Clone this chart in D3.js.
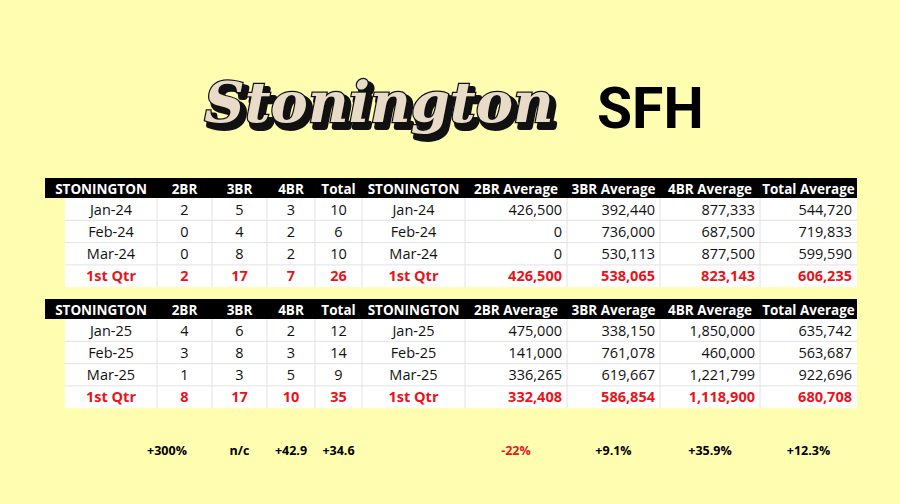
<!DOCTYPE html>
<html><head><meta charset="utf-8">
<script src="https://cdn.jsdelivr.net/npm/d3@7"></script>
<style>body{margin:0;background:#fffdb0;}</style>
</head><body><div id="chart"></div>
<script>
var w = 900, h = 504;

var headers = ["STONINGTON","2BR","3BR","4BR","Total","STONINGTON","2BR Average","3BR Average","4BR Average","Total Average"];
var colEdges = [45,157,212,267,315,362,465,567,660,760,857];

var rows24 = [
  ["Jan-24","2","5","3","10","Jan-24","426,500","392,440","877,333","544,720"],
  ["Feb-24","0","4","2","6","Feb-24","0","736,000","687,500","719,833"],
  ["Mar-24","0","8","2","10","Mar-24","0","530,113","877,500","599,590"],
  ["1st Qtr","2","17","7","26","1st Qtr","426,500","538,065","823,143","606,235"]
];
var rows25 = [
  ["Jan-25","4","6","2","12","Jan-25","475,000","338,150","1,850,000","635,742"],
  ["Feb-25","3","8","3","14","Feb-25","141,000","761,078","460,000","563,687"],
  ["Mar-25","1","3","5","9","Mar-25","336,265","619,667","1,221,799","922,696"],
  ["1st Qtr","8","17","10","35","1st Qtr","332,408","586,854","1,118,900","680,708"]
];
var changes = ["","+300%","n/c","+42.9","+34.6","","-22%","+9.1%","+35.9%","+12.3%"];

var svg = d3.select("#chart").append("svg").attr("width", w).attr("height", h);
svg.append("rect").attr("width", w).attr("height", h).attr("fill", "#fffdb0");

// title: shadow copy behind, outlined copy on top
var tf = "'DejaVu Serif', serif";
svg.append("text").attr("x", 383).attr("y", 127).attr("text-anchor", "middle")
  .attr("font-family", tf).attr("font-style", "italic").attr("font-weight", "bold")
  .attr("font-size", 56).attr("fill", "#111").attr("stroke", "#111").attr("stroke-width", 6)
  .attr("stroke-linejoin", "round").text("Stonington");
svg.append("text").attr("x", 379).attr("y", 122).attr("text-anchor", "middle")
  .attr("font-family", tf).attr("font-style", "italic").attr("font-weight", "bold")
  .attr("font-size", 56).attr("fill", "#e8dcc8").attr("stroke", "#111").attr("stroke-width", 2.5)
  .attr("paint-order", "stroke").text("Stonington");
svg.append("text").attr("x", 597).attr("y", 128)
  .attr("font-family", "Roboto, sans-serif").attr("font-weight", "bold")
  .attr("font-size", 57).attr("fill", "#000").text("SFH");

var x = d3.scaleOrdinal().domain(d3.range(headers.length)).range(colEdges.slice(0, -1));
function cw(i){ return colEdges[i+1] - colEdges[i]; }

var ff = "'Open Sans', sans-serif";
function table(top, rows){
  var g = svg.append("g").attr("font-family", ff);
  var rh = 22.3;
  g.append("rect").attr("x", colEdges[0]).attr("y", top).attr("width", colEdges[10]-colEdges[0])
    .attr("height", 20).attr("fill", "#000");
  g.selectAll("text.h").data(headers).enter().append("text")
    .attr("x", function(d,i){ return x(i) + cw(i)/2; }).attr("y", top + 15.5)
    .attr("text-anchor", "middle").attr("font-weight", "bold").attr("font-size", 13.5)
    .attr("fill", "#fff").text(function(d){ return d; });
  var by = top + 20;
  g.append("rect").attr("x", 65).attr("y", by).attr("width", colEdges[10]-65)
    .attr("height", rh*rows.length).attr("fill", "#fff");
  colEdges.slice(1, -1).forEach(function(e){
    g.append("line").attr("x1", e).attr("x2", e).attr("y1", by).attr("y2", by + rh*rows.length)
      .attr("stroke", "#e2e2e2");
  });
  rows.forEach(function(r, ri){
    if (ri > 0) g.append("line").attr("x1", 65).attr("x2", colEdges[10])
      .attr("y1", by + ri*rh).attr("y2", by + ri*rh).attr("stroke", "#e2e2e2");
    var last = ri === rows.length - 1;
    g.selectAll(null).data(r).enter().append("text")
      .attr("x", function(d,i){
        if (i < 6) return x(i) + cw(i)/2 + (i === 0 ? 10 : 0);
        return colEdges[i+1] - 5;
      })
      .attr("y", by + ri*rh + 16.5)
      .attr("text-anchor", function(d,i){ return i < 6 ? "middle" : "end"; })
      .attr("font-size", 14.5).attr("font-weight", last ? "bold" : "normal")
      .attr("fill", last ? "#e8141b" : "#111").text(function(d){ return d; });
  });
}
table(178, rows24);
table(299, rows25);

svg.append("g").selectAll("text").data(changes).enter().append("text")
  .attr("x", function(d,i){ return i === 1 ? 167 : x(i) + cw(i)/2; }).attr("y", 455)
  .attr("text-anchor", "middle").attr("font-family", ff)
  .attr("font-weight", "bold").attr("font-size", 12.5)
  .attr("fill", function(d){ return d.charAt(0) === "-" ? "#e8141b" : "#000"; })
  .text(function(d){ return d; });
</script></body></html>
